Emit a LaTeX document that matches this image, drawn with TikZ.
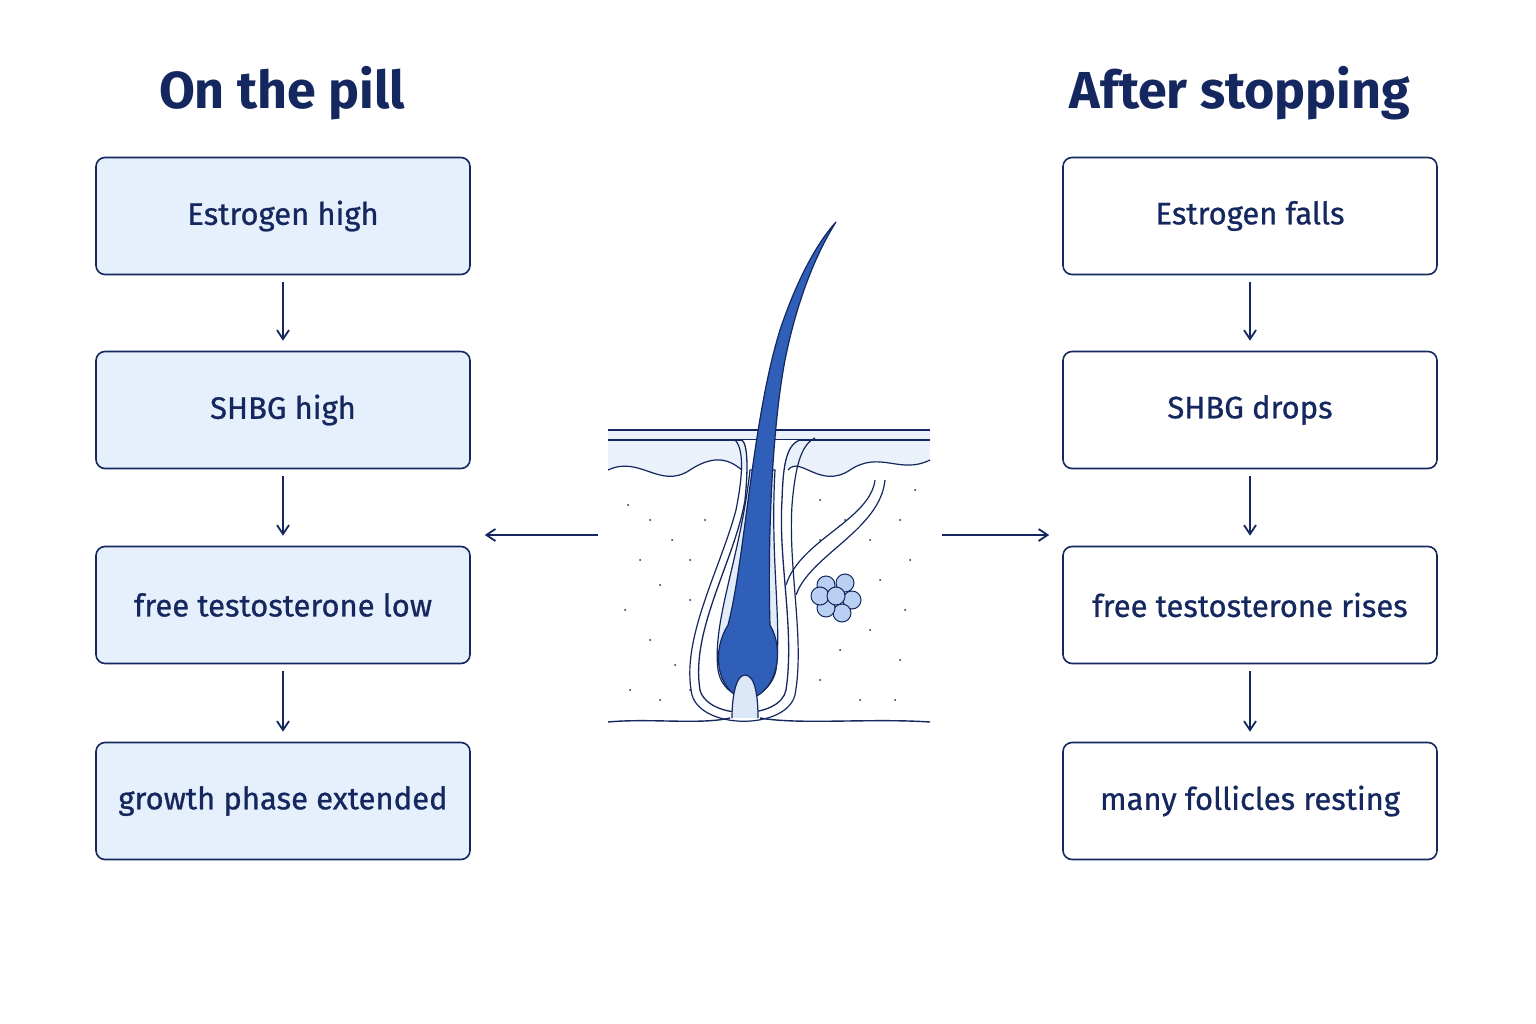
\documentclass[tikz,border=0pt]{standalone}
\usepackage{fontspec}
\setmainfont{Fira Sans}
\newfontfamily\labelfont{Fira Sans}[FakeBold=0.8]
\usetikzlibrary{positioning,arrows.meta}
\definecolor{navy}{HTML}{14275E}
\definecolor{paleblue}{HTML}{E6F0FC}
\definecolor{hairblue}{HTML}{2F5FB8}
\definecolor{skinblue}{HTML}{DCE8F8}
\definecolor{glandblue}{HTML}{B9D0F2}
\tikzset{
  stage/.style = {draw = navy, line width = 1.6pt, rounded corners = 9pt, minimum width = 374pt, minimum height = 117pt, font = \labelfont\fontsize{31}{34}\selectfont, text = navy},
  pillstep/.style = {stage, fill = paleblue},
  stopstep/.style = {stage, fill = white},
  flow/.style = {-{Straight Barb[length=9pt,width=12pt]}, draw = navy, line width = 1.8pt, shorten < = 7pt, shorten > = 10pt},
  heading/.style = {font = \fontsize{52}{56}\selectfont\bfseries, text = navy}
}
\begin{document}
\begin{tikzpicture}[x=1pt, y=-1pt]
\useasboundingbox (0,0) rectangle (1536,1024);
% left column
\node[heading] (pill) at (282, 93) {On the pill};
\node[pillstep] (p1) at (283, 216) {Estrogen high};
\node[pillstep] (p2) at (283, 410) {SHBG high};
\node[pillstep] (p3) at (283, 605) {free testosterone low};
\node[pillstep] (p4) at (283, 801) {growth phase extended};
\draw[flow] (p1) -- (p2);
\draw[flow] (p2) -- (p3);
\draw[flow] (p3) -- (p4);
% right column
\node[heading] (stop) at (1240, 93) {After stopping};
\node[stopstep] (s1) at (1250, 216) {Estrogen falls};
\node[stopstep] (s2) at (1250, 410) {SHBG drops};
\node[stopstep] (s3) at (1250, 605) {free testosterone rises};
\node[stopstep] (s4) at (1250, 801) {many follicles resting};
\draw[flow] (s1) -- (s2);
\draw[flow] (s2) -- (s3);
\draw[flow] (s3) -- (s4);
% skin section
\coordinate (skinL) at (598, 535);
\coordinate (skinR) at (942, 535);
\draw[flow, shorten < = 0pt, shorten > = 14pt] (skinL) -- (p3.east |- skinL);
\draw[flow, shorten < = 0pt, shorten > = 13pt] (skinR) -- (s3.west |- skinR);
\fill[skinblue!60] (608,430) rectangle (930,720);
\fill[white] (608,470) .. controls (640,455) and (660,490) .. (690,470) .. controls (720,450) and (735,470) .. (745,470) -- (785,470) .. controls (800,455) and (820,490) .. (850,470) .. controls (880,450) and (900,475) .. (930,460) -- (930,720) -- (608,720) -- cycle;
\draw[navy, line width=1.4pt] (608,430) -- (930,430);
\draw[navy, line width=1.2pt] (608,440) -- (930,440);
\draw[navy, line width=1.2pt] (608,470) .. controls (640,455) and (660,490) .. (690,470) .. controls (720,450) and (735,465) .. (742,470);
\draw[navy, line width=1.2pt] (788,470) .. controls (800,455) and (820,490) .. (850,470) .. controls (880,450) and (900,475) .. (930,460);
\draw[navy, line width=1.4pt] (608,722) .. controls (650,718) and (700,725) .. (730,718);
\draw[navy, line width=1.4pt] (760,718) .. controls (800,725) and (870,718) .. (930,722);
\foreach \px/\py in {628/505,650/520,672/540,640/560,660/585,625/610,690/600,650/640,675/665,630/690,660/700,690/690,705/520,820/500,845/520,870/540,900/520,910/560,880/580,905/610,870/630,900/660,840/650,820/680,860/700,895/700,820/540,915/490,690/560}
  \fill[navy] (\px,\py) circle (1pt);
% follicle sheaths
\draw[navy, line width=1.3pt, fill=white] (742,440) .. controls (748,445) and (748,470) .. (745,500) .. controls (735,560) and (690,630) .. (700,690) .. controls (708,720) and (780,720) .. (786,690) .. controls (795,630) and (778,560) .. (782,500) .. controls (783,470) and (785,445) .. (800,440);
\draw[navy, line width=1.2pt] (735,440) .. controls (745,450) and (742,480) .. (736,510) .. controls (720,570) and (680,640) .. (692,695) .. controls (702,730) and (786,730) .. (795,695) .. controls (805,640) and (788,570) .. (792,505) .. controls (795,470) and (800,445) .. (815,438);
\draw[navy, line width=1.2pt, fill=skinblue!80] (750,470) .. controls (740,560) and (712,620) .. (718,670) .. controls (724,705) and (768,705) .. (776,670) .. controls (782,620) and (770,560) .. (775,470) -- cycle;
% hair
\draw[navy, line width=1.2pt, fill=hairblue] (745,700) .. controls (715,690) and (712,650) .. (728,625) .. controls (745,560) and (752,420) .. (780,330) .. controls (795,285) and (815,245) .. (836,222) .. controls (812,260) and (795,310) .. (785,360) .. controls (770,440) and (768,560) .. (770,625) .. controls (785,650) and (778,695) .. (745,700) -- cycle;
\draw[navy, line width=1.2pt, fill=skinblue] (732,718) .. controls (732,700) and (735,675) .. (745,675) .. controls (756,675) and (758,700) .. (758,718);
% sebaceous gland
\draw[navy, line width=1.2pt] (786,585) .. controls (800,540) and (870,520) .. (875,480);
\draw[navy, line width=1.2pt] (796,595) .. controls (810,555) and (880,530) .. (885,480);
\foreach \gx/\gy in {826/585,845/583,852/600,842/613,826/608,820/596,836/596}
  \draw[navy, line width=1pt, fill=glandblue] (\gx,\gy) circle (9pt);
\end{tikzpicture}
\end{document}
